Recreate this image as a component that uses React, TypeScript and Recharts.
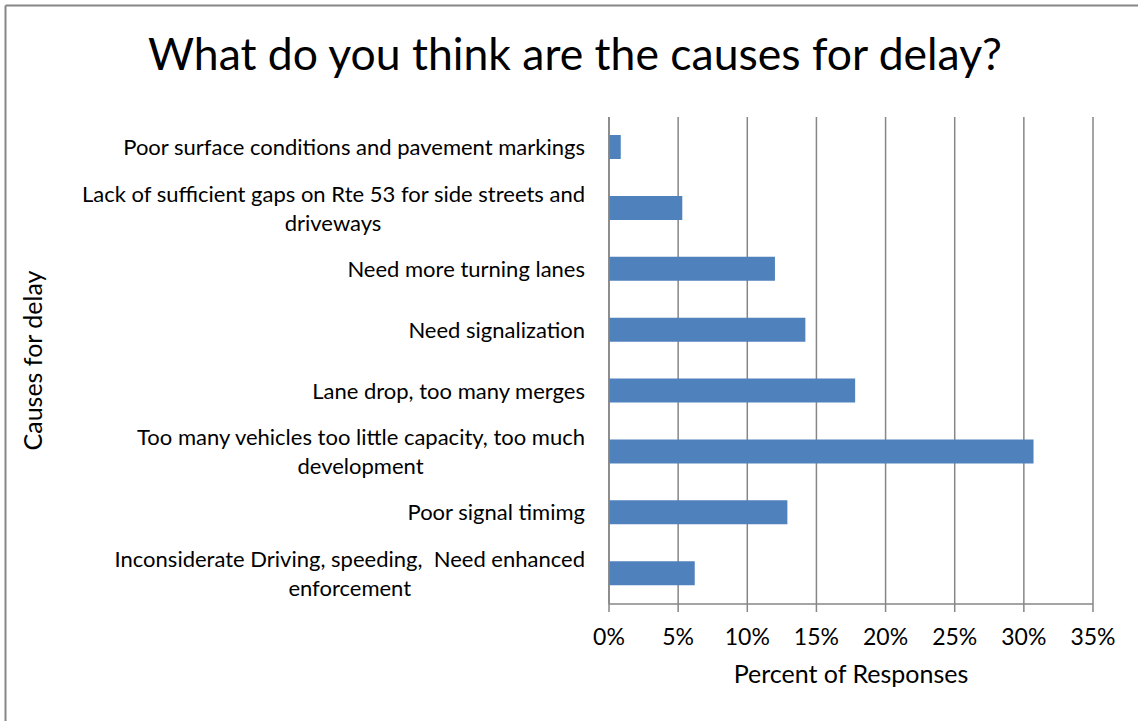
import React from 'react';
import { BarChart, Bar, XAxis, YAxis, CartesianGrid } from 'recharts';

// categories top to bottom, "\n" marks where the label wraps
const causes = [
    'Poor surface conditions and pavement markings',
    'Lack of sufficient gaps on Rte 53 for side streets and\ndriveways',
    'Need more turning lanes',
    'Need signalization',
    'Lane drop, too many merges',
    'Too many vehicles too little capacity, too much\ndevelopment',
    'Poor signal timimg',
    'Inconsiderate Driving, speeding,  Need enhanced\nenforcement',
];
const percentOfResponses = [0.85, 5.3, 12.0, 14.2, 17.8, 30.7, 12.9, 6.2];
const percentTicks = [0, 5, 10, 15, 20, 25, 30, 35];

const FONT = 'Lato, "Open Sans", sans-serif';
const LABEL_SIZE = 22;
const TICK_SIZE = 23;
const AXIS_TITLE_SIZE = 25;
const LINE_GAP = 29;
const GRID = '#868686';

const chartData = causes.map((cause, i) => ({ cause, pct: percentOfResponses[i] }));

let measureCtx: CanvasRenderingContext2D | null = null;
const textWidth = (text: string, size: number) => {
    if (!measureCtx) measureCtx = document.createElement('canvas').getContext('2d');
    if (!measureCtx) return text.length * size * 0.45;
    measureCtx.font = `${size}px Lato`;
    return measureCtx.measureText(text).width;
};

// Excel-style wrapped label: block is right aligned, extra lines centred under the first
const CauseTick = (props: any) => {
    const { x, y, payload } = props;
    const lines: string[] = String(payload.value).split('\n');
    const firstWidth = textWidth(lines[0], LABEL_SIZE);
    const centreX = x - firstWidth / 2;
    return (
        <g>
            {lines.map((line, i) => (
                <text
                    key={i}
                    x={i === 0 ? x : centreX}
                    y={y + (i - (lines.length - 1) / 2) * LINE_GAP}
                    dy="0.35em"
                    textAnchor={i === 0 ? 'end' : 'middle'}
                    fontFamily={FONT}
                    fontSize={LABEL_SIZE}
                    fill="#000"
                    style={{ whiteSpace: 'pre' }}
                >
                    {line}
                </text>
            ))}
        </g>
    );
};

const App: React.FC = () => {
    return (
        <div style={{ position: 'absolute', left: 0, top: 0, width: 1138, height: 721, background: '#fff', fontFamily: FONT }}>
            <BarChart
                width={1138}
                height={721}
                data={chartData}
                layout="vertical"
                margin={{ top: 117, right: 45, left: 0, bottom: 0 }}
            >
                <CartesianGrid vertical horizontal={false} stroke={GRID} strokeWidth={1.5} />
                <XAxis
                    type="number"
                    domain={[0, 35]}
                    ticks={percentTicks}
                    tickFormatter={(v) => `${v}%`}
                    height={117}
                    axisLine={{ stroke: GRID, strokeWidth: 1.5 }}
                    tickLine={{ stroke: GRID, strokeWidth: 1.5 }}
                    tickSize={8}
                    tickMargin={17}
                    tick={{ fill: '#000', fontSize: TICK_SIZE, fontFamily: FONT }}
                    label={{ value: 'Percent of Responses', position: 'insideBottom', offset: 38, fill: '#000', fontSize: AXIS_TITLE_SIZE, fontFamily: FONT }}
                />
                <YAxis
                    type="category"
                    dataKey="cause"
                    width={609}
                    interval={0}
                    axisLine={{ stroke: GRID, strokeWidth: 1.5 }}
                    tickLine={false}
                    tickMargin={18}
                    tick={<CauseTick />}
                    label={{ value: 'Causes for delay', angle: -90, position: 'insideLeft', offset: 33, fill: '#000', fontSize: AXIS_TITLE_SIZE, fontFamily: FONT, style: { textAnchor: 'middle' } }}
                />
                <Bar dataKey="pct" fill="#4F81BD" barSize={24} isAnimationActive={false} />
            </BarChart>
            <svg width={1138} height={721} style={{ position: 'absolute', left: 0, top: 0, pointerEvents: 'none' }}>
                <line x1={5.5} y1={5.5} x2={1138} y2={5.5} stroke={GRID} strokeWidth={2} />
                <line x1={5.5} y1={5.5} x2={5.5} y2={721} stroke={GRID} strokeWidth={2} />
                <text x={575} y={70} textAnchor="middle" fontFamily={FONT} fontSize={44.5} fill="#000">
                    What do you think are the causes for delay?
                </text>
            </svg>
        </div>
    );
};

export default App;
